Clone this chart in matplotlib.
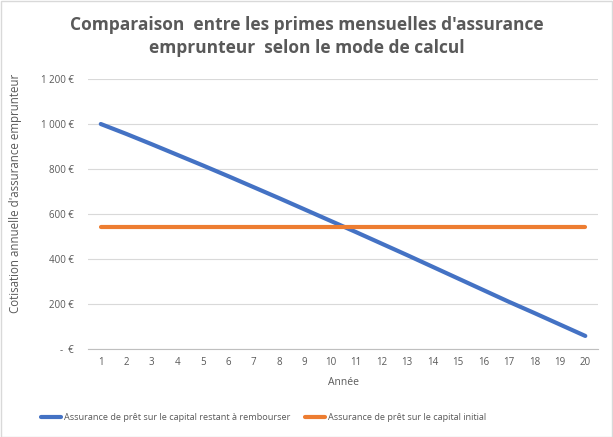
import matplotlib.pyplot as plt
from matplotlib.ticker import FuncFormatter
from matplotlib.patches import Rectangle

# ============= Data =============
annees = list(range(1, 21))
capital_restant = [1000, 956, 910, 863, 816, 768, 719, 670, 620, 570,
                   520, 469, 418, 366, 314, 262, 210, 160, 109, 58]
capital_initial = [540] * 20
y_ticks = [0, 200, 400, 600, 800, 1000, 1200]

label_restant = "Assurance de prêt sur le capital restant à rembourser"
label_initial = "Assurance de prêt sur le capital initial"

blue = '#4472C4'
orange = '#ED7D31'
grey_txt = '#595959'

plt.rcParams['font.family'] = ['Open Sans', 'DejaVu Sans']


def euro(v, pos):
    if v == 0:
        return '-  €'
    return f'{int(v):,} €'.replace(',', ' ')


fig = plt.figure(figsize=(6.13, 4.37), dpi=100)
fig.patches.append(Rectangle((0.001, 0.001), 0.997, 0.997, transform=fig.transFigure,
                             fill=False, edgecolor='#d9d9d9', lw=1))
ax = fig.add_axes([0.1436, 0.2014, 0.832, 0.6178])

ax.plot(annees, capital_restant, color=blue, lw=3, solid_capstyle='round', label=label_restant)
ax.plot(annees, capital_initial, color=orange, lw=3, solid_capstyle='round', label=label_initial)

ax.set_xlim(0.5, 20.5)
ax.set_ylim(0, 1200)
ax.set_xticks(annees)
ax.set_yticks(y_ticks)
ax.yaxis.set_major_formatter(FuncFormatter(euro))
ax.grid(axis='y', color='#d9d9d9', lw=0.8)
ax.set_axisbelow(True)
for s in ['left', 'right', 'top']:
    ax.spines[s].set_visible(False)
ax.spines['bottom'].set_color('#bfbfbf')
ax.tick_params(axis='both', length=0, labelsize=7, labelcolor=grey_txt, pad=6)
ax.tick_params(axis='y', pad=10)

ax.set_xlabel('Année', fontsize=7.5, color=grey_txt, labelpad=6)
ax.set_ylabel("Cotisation annuelle d'assurance emprunteur", fontsize=8.3, color=grey_txt)
ax.yaxis.set_label_coords(-0.129, 0.578)

fig.text(0.5, 0.9165, "Comparaison  entre les primes mensuelles d'assurance\nemprunteur  selon le mode de calcul",
         ha='center', va='center', fontsize=12.5, fontweight='bold', color=grey_txt, linespacing=1.4)

fig.legend(loc='center', bbox_to_anchor=(0.43, 0.045), ncol=2, frameon=False,
           fontsize=6.6, labelcolor=grey_txt, handlelength=2.2, handletextpad=0.3, columnspacing=1.6)

fig.savefig('out.png', dpi=100)
